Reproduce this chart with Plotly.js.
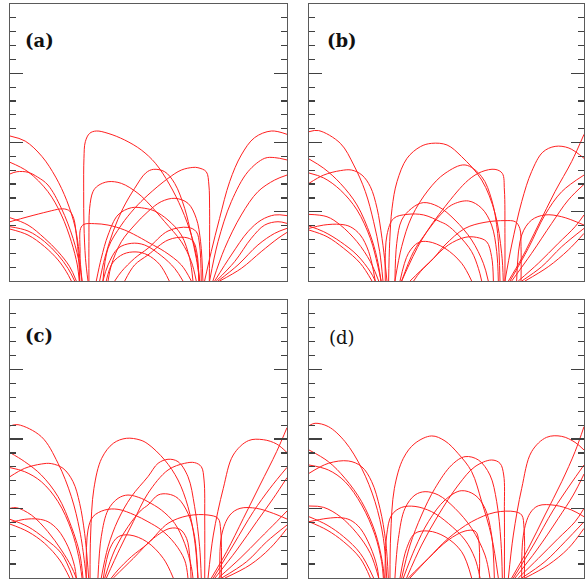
<!DOCTYPE html>
<html>
<head>
<meta charset="utf-8">
<script src="https://cdn.plot.ly/plotly-3.0.1.min.js"></script>
<style>html,body{margin:0;padding:0;background:#fff;}#chart{width:587px;height:580px;}</style>
</head>
<body>
<div id="chart"></div>
<script>
// Field lines, one list of [x, y] points per line, for each panel (axis units 0..20)
const panelLabels = ["(a)", "(b)", "(c)", "(d)"];

const linesA = [
  [[0,10.47],[1.1,10.1],[2.3,9.0],[3.3,7.5],[4.1,5.8],[4.7,3.9],[5.0,2.0],[5.2,0]],
  [[0,8.57],[1.3,7.89],[2.74,6.45],[3.71,4.77],[4.43,2.84],[4.86,1.16],[5.0,0]],
  [[0,7.73],[0.5,7.89],[1.3,7.85],[2.0,7.5],[2.74,6.93],[3.71,5.25],[4.55,3.08],[5.03,1.16],[5.2,0]],
  [[0,4.28],[1.3,4.64],[2.74,5.01],[3.6,5.2],[3.95,5.2],[4.31,5.05],[4.6,4.52],[4.79,3.32],[4.96,1.64],[5.03,0]],
  [[0,4.57],[1.3,4.04],[2.5,3.08],[3.47,2.12],[4.31,1.03],[4.79,0]],
  [[0,3.92],[1.3,3.61],[2.5,2.84],[3.47,1.88],[4.19,0.91],[4.67,0]],
  [[0,3.75],[1.3,3.32],[2.5,2.48],[3.47,1.52],[4.07,0.67],[4.43,0]],
  [[5.63,0],[5.45,1.64],[5.34,4.04],[5.32,6.45],[5.34,8.86],[5.44,10.06],[5.75,10.66],[6.23,10.83],[7.08,10.66],[8.28,10.18],[9.48,9.46],[10.5,8.5],[11.5,7.0],[12.4,5.2],[13.1,3.3],[13.5,1.6],[13.7,0]],
  [[5.7,0],[5.7,2.84],[5.75,5.25],[5.99,6.45],[6.35,6.88],[7.08,7.17],[8.04,7.05],[9.24,6.33],[10.11,5.49],[11.17,4.28],[12.37,2.84],[13.09,1.40],[13.45,0]],
  [[6.47,0],[6.84,1.64],[7.44,3.56],[8.16,5.25],[9.0,6.69],[9.8,7.8],[10.35,8.06],[11.17,7.89],[11.89,7.05],[12.61,5.25],[13.09,3.32],[13.45,1.64],[13.69,0]],
  [[6.71,0],[7.08,2.36],[8.04,4.04],[9.0,5.25],[9.96,6.21],[11.41,7.41],[12.37,8.01],[13.2,8.2],[13.57,8.18],[14.17,7.89],[14.36,6.93],[14.41,5.25],[14.41,2.84],[14.39,0]],
  [[7.08,0],[7.32,1.16],[8.04,2.84],[9.0,4.04],[9.96,5.01],[10.92,5.73],[11.91,5.97],[12.85,5.61],[13.45,4.52],[13.76,2.84],[13.93,0]],
  [[6.23,0],[6.59,1.64],[7.08,3.32],[7.80,4.77],[8.76,5.29],[9.72,5.25],[10.44,5.05],[11.41,4.40],[12.37,3.32],[12.97,1.64],[13.21,0]],
  [[5.03,0],[5.06,2.0],[5.10,3.8],[5.34,4.09],[6.11,4.14],[7.08,4.04],[8.28,3.68],[9.48,3.08],[10.11,2.72],[11.17,2.12],[12.37,1.16],[13.09,0]],
  [[7.56,0],[8.04,0.67],[9.0,1.64],[9.96,2.36],[11.41,3.61],[12.85,3.87],[13.45,3.56],[13.69,2.60],[13.81,0]],
  [[8.28,0],[9.0,1.16],[9.96,1.88],[11.41,2.96],[12.61,3.15],[13.21,2.89],[13.52,1.88],[13.62,0]],
  [[6.71,0],[7.08,1.16],[7.80,2.36],[8.76,2.72],[9.72,2.60],[10.92,1.83],[11.89,0.91],[12.49,0]],
  [[6.95,0],[7.4,1.3],[8.2,1.95],[9.1,2.1],[9.9,1.9],[10.8,1.2],[11.5,0]],
  [[14.05,0],[14.53,2.12],[15.13,4.52],[15.86,7.17],[16.70,9.10],[17.66,10.35],[18.87,10.83],[20,10.59]],
  [[14.41,0],[15.02,2.84],[15.98,5.73],[17.18,7.89],[18.39,8.86],[19.11,8.91],[20,8.74]],
  [[14.65,0],[15.50,2.36],[16.70,4.77],[17.90,6.45],[19.11,7.29],[20,7.65]],
  [[14.78,0],[15.98,1.88],[17.18,3.56],[18.14,4.40],[19.11,4.77],[20,4.72]],
  [[14.89,0],[16.22,1.40],[17.42,3.08],[18.39,4.04],[19.35,4.28],[20,4.16]],
  [[15.02,0],[16.46,1.16],[17.90,2.60],[19.11,3.44],[20,3.80]],
  [[15.14,0],[16.70,0.91],[18.14,2.12],[19.35,3.08],[20,3.51]]
];

const linesB = [
  [[0,10.78],[0.70,10.86],[2.28,9.94],[3.25,8.38],[4.10,6.45],[4.70,4.28],[5.14,2.12],[5.38,0]],
  [[0,8.81],[1.07,8.14],[2.28,7.05],[3.49,5.49],[4.46,3.32],[4.95,1.64],[5.24,0]],
  [[0,7.80],[1.07,7.44],[2.28,6.57],[3.49,5.13],[4.46,3.08],[4.99,1.16],[5.24,0]],
  [[0,7.05],[1.07,7.65],[2.28,7.97],[3.10,8.01],[3.85,7.65],[4.46,6.81],[4.95,5.25],[5.31,3.08],[5.55,1.16],[5.67,0]],
  [[0,4.81],[1.31,4.64],[2.28,4.04],[3.49,2.84],[4.46,1.40],[5.07,0]],
  [[0,3.80],[1.07,4.04],[2.28,4.09],[3.0,3.92],[3.73,3.32],[4.34,2.12],[4.82,0]],
  [[0,3.97],[1.07,3.56],[2.28,2.84],[3.49,1.88],[4.46,0.67],[4.82,0]],
  [[0,3.68],[1.31,3.20],[2.52,2.36],[3.73,1.28],[4.58,0]],
  [[5.79,0],[5.87,2.84],[6.04,5.25],[6.40,7.17],[7.13,8.86],[8.10,9.70],[8.92,9.94],[10.04,9.82],[11.10,8.98],[12.56,7.29],[13.53,4.89],[14.01,2.0],[14.13,0]],
  [[6.25,0],[6.74,2.48],[7.47,4.64],[8.68,6.57],[9.89,7.77],[11.35,8.38],[12.56,7.53],[13.29,5.85],[13.72,3.44],[13.89,0]],
  [[6.74,0],[8.19,2.96],[9.89,5.37],[11.59,7.29],[12.56,7.89],[13.53,8.06],[14.06,7.77],[14.21,6.57],[14.25,3.44],[14.25,0]],
  [[6.25,0],[6.38,2.72],[6.74,4.40],[7.47,5.25],[8.31,5.66],[9.41,5.37],[10.62,4.40],[11.83,2.96],[12.68,1.28],[13.04,0]],
  [[5.55,0],[5.67,3.32],[6.16,4.52],[7.13,4.81],[8.34,4.77],[9.55,4.28],[10.04,4.04],[10.86,3.32],[11.83,2.12],[12.32,0.91],[12.56,0]],
  [[6.74,0],[7.61,2.12],[8.58,3.56],[9.55,4.77],[10.38,5.49],[11.59,5.78],[12.56,5.25],[13.28,4.04],[13.65,2.12],[13.77,0]],
  [[7.61,0],[8.10,0.67],[9.07,1.64],[9.89,2.60],[11.35,3.80],[12.80,4.24],[14.25,4.36],[15.0,4.28],[15.33,3.80],[15.42,2.5],[15.42,0]],
  [[7.35,0],[8.68,1.28],[10.13,2.60],[11.35,3.15],[12.19,3.15],[12.92,2.84],[13.28,1.76],[13.41,0]],
  [[6.62,0],[7.23,2.0],[7.95,2.77],[8.68,2.84],[9.89,2.36],[11.10,1.28],[11.83,0]],
  [[14.25,0],[14.74,2.60],[15.47,5.73],[16.19,7.9],[17.0,9.3],[17.9,9.72],[18.9,9.6],[20,8.86]],
  [[14.50,0],[15.47,1.64],[16.68,4.04],[17.89,6.45],[19.10,8.62],[20,10.59]],
  [[14.62,0],[15.95,2.36],[17.16,4.77],[18.38,6.45],[20,7.65]],
  [[14.74,0],[16.19,2.0],[17.65,4.16],[18.86,5.85],[20,6.98]],
  [[15.10,0],[15.47,3.32],[16.19,4.40],[17.16,4.77],[18.38,4.64],[20,4.04]],
  [[15.22,0],[16.68,1.28],[18.13,2.72],[19.35,3.92],[20,4.77]],
  [[15.47,0],[16.92,1.03],[18.38,2.48],[20,3.80]],
  [[15.71,0],[17.40,1.03],[18.86,2.24],[20,3.44]]
];

const linesC = [
  [[0,10.94],[0.58,11.03],[2.26,10.17],[3.47,8.25],[4.43,5.85],[5.03,3.45],[5.39,1.06],[5.51,0]],
  [[0,9.02],[1.06,8.37],[2.26,7.41],[3.47,5.85],[4.43,3.69],[5.03,1.77],[5.27,0]],
  [[0,7.94],[1.06,7.65],[2.26,6.93],[3.47,5.49],[4.43,3.45],[4.96,1.53],[5.20,0]],
  [[0,7.29],[1.06,7.89],[2.26,8.20],[2.98,8.23],[3.83,7.89],[4.55,6.93],[5.03,5.37],[5.39,3.21],[5.58,1.29],[5.68,0]],
  [[0,5.01],[0.46,5.06],[1.54,4.53],[2.74,3.33],[3.71,2.01],[4.43,0.82],[4.79,0]],
  [[0,3.98],[1.06,4.22],[2.02,4.24],[2.74,4.05],[3.47,3.45],[4.19,2.25],[4.67,0.82],[4.79,0]],
  [[0,4.22],[1.30,3.69],[2.50,2.85],[3.71,1.77],[4.55,0]],
  [[0,3.88],[1.30,3.33],[2.50,2.49],[3.59,1.29],[4.31,0]],
  [[5.78,0],[5.82,3.09],[6.06,6.45],[6.62,8.61],[7.46,9.69],[8.40,10.05],[9.39,9.93],[9.96,9.64],[11.17,8.49],[12.13,7.05],[12.85,5.13],[13.33,2.73],[13.57,0]],
  [[6.59,0],[7.08,2.25],[7.80,4.17],[8.76,5.85],[9.96,7.29],[10.69,8.25],[11.41,8.54],[12.13,8.37],[12.85,7.29],[13.33,5.13],[13.69,2.25],[13.81,0]],
  [[6.96,0],[7.94,2.13],[8.90,4.05],[9.96,6.09],[11.41,7.77],[12.61,8.25],[13.33,8.30],[13.81,8.01],[14.01,7.05],[14.06,4.17],[14.06,0]],
  [[6.35,0],[6.59,2.97],[7.08,4.89],[7.80,5.73],[8.52,5.97],[9.48,5.73],[9.96,5.49],[10.93,4.89],[11.89,3.93],[12.61,2.49],[13.09,0.82],[13.21,0]],
  [[5.51,0],[5.63,3.45],[5.99,4.41],[6.84,4.89],[7.80,4.94],[9.00,4.53],[9.96,4.05],[10.93,3.45],[11.89,2.49],[12.61,1.29],[12.85,0]],
  [[6.84,0],[7.56,2.01],[8.52,3.69],[9.48,4.89],[9.96,5.25],[10.69,5.97],[11.41,6.04],[12.13,5.73],[12.85,4.65],[13.33,2.97],[13.57,0]],
  [[7.32,0],[7.80,0.58],[8.76,1.53],[9.96,2.49],[11.41,3.93],[12.85,4.48],[14.30,4.53],[15.02,4.29],[15.21,3.45],[15.26,0]],
  [[7.46,0],[8.90,1.41],[10.35,2.85],[11.55,3.57],[12.27,3.50],[12.75,2.85],[12.99,1.41],[13.07,0]],
  [[6.74,0],[7.22,2.13],[7.82,2.97],[8.66,3.09],[9.87,2.61],[11.07,1.41],[11.79,0]],
  [[14.30,0],[14.68,3.09],[15.40,6.45],[16.12,8.85],[17.21,9.88],[18.29,9.95],[19.25,9.64],[20,9.02]],
  [[14.54,0],[15.64,1.89],[16.85,4.29],[18.05,6.69],[19.25,9.09],[20,10.82]],
  [[14.68,0],[16.12,2.37],[17.57,4.77],[18.77,6.45],[20,7.96]],
  [[14.80,0],[16.37,2.01],[17.81,4.05],[19.01,5.73],[20,7.22]],
  [[15.16,0],[15.28,3.09],[15.88,4.53],[16.61,5.01],[17.81,5.01],[19.01,4.65],[20,4.24]],
  [[15.04,0],[16.61,1.41],[18.05,2.85],[19.25,4.05],[20,4.82]],
  [[15.28,0],[17.09,1.18],[18.53,2.61],[20,3.81]],
  [[15.52,0],[17.33,0.94],[18.77,2.13],[20,3.57]]
];

const linesD = [
  [[0,10.96],[0.44,11.13],[1.41,10.89],[2.62,9.81],[3.83,7.89],[4.80,5.49],[5.41,2.85],[5.65,0]],
  [[0,9.21],[1.41,8.37],[2.62,7.17],[3.83,5.49],[4.80,3.33],[5.33,1.18],[5.48,0]],
  [[0,8.13],[1.41,7.77],[2.62,6.93],[3.83,5.25],[4.80,3.09],[5.28,1.18],[5.41,0]],
  [[0,7.53],[1.41,8.25],[2.86,8.42],[3.83,8.01],[4.56,6.93],[5.16,5.01],[5.58,2.61],[5.77,0]],
  [[0,5.18],[1.07,5.08],[2.28,4.41],[3.49,3.21],[4.46,1.77],[5.07,0]],
  [[0,4.05],[1.31,4.29],[2.28,4.34],[3.0,4.17],[3.73,3.57],[4.46,2.25],[4.95,0.82],[5.07,0]],
  [[0,4.41],[1.31,3.81],[2.52,2.97],[3.73,1.77],[4.70,0]],
  [[0,4.05],[1.31,3.45],[2.52,2.61],[3.73,1.41],[4.46,0]],
  [[5.89,0],[5.94,3.09],[6.21,6.45],[6.86,8.61],[7.71,9.69],[8.92,10.22],[9.89,9.86],[10.86,8.94],[11.83,7.65],[12.56,5.49],[13.28,2.97],[13.77,0]],
  [[6.74,0],[7.35,2.37],[8.19,4.53],[9.16,6.45],[10.38,8.13],[11.35,8.73],[12.32,8.49],[13.16,7.41],[13.65,5.49],[13.96,2.61],[14.06,0]],
  [[7.10,0],[8.19,2.37],[9.41,4.53],[10.86,6.69],[12.07,8.01],[13.28,8.49],[13.89,8.25],[14.16,7.41],[14.21,4.77],[14.21,0]],
  [[6.25,0],[6.50,2.85],[6.98,5.01],[7.71,5.97],[8.44,6.21],[9.41,5.97],[10.62,5.01],[11.83,3.57],[12.80,1.65],[13.16,0]],
  [[5.53,0],[5.65,3.09],[6.01,4.53],[6.74,5.08],[7.71,5.15],[8.92,4.77],[10.13,3.93],[11.35,2.73],[12.07,1.41],[12.44,0]],
  [[6.86,0],[7.71,2.13],[8.68,4.05],[9.89,5.61],[11.07,6.28],[12.07,5.97],[12.80,5.01],[13.28,3.09],[13.48,0]],
  [[7.35,0],[8.68,1.41],[10.13,2.85],[11.83,4.05],[13.53,4.72],[14.98,4.77],[15.47,4.53],[15.64,3.57],[15.66,0]],
  [[7.22,0],[8.68,1.41],[10.13,2.73],[11.35,3.38],[12.07,3.38],[12.32,2.85],[12.39,0]],
  [[6.62,0],[7.10,2.13],[7.71,3.21],[8.68,3.38],[9.89,2.97],[11.10,1.89],[11.83,0]],
  [[14.50,0],[14.86,3.09],[15.47,6.45],[16.19,9.09],[17.28,10.12],[18.38,10.19],[19.35,9.76],[20,9.21]],
  [[14.74,0],[15.95,2.13],[17.16,4.53],[18.38,6.93],[19.35,9.09],[20,10.89]],
  [[14.86,0],[16.32,2.37],[17.77,4.89],[18.98,6.69],[20,8.13]],
  [[14.98,0],[16.56,2.01],[18.13,4.29],[19.22,5.97],[20,7.48]],
  [[15.47,0],[15.59,3.09],[16.07,4.65],[16.68,5.20],[17.89,5.23],[19.10,4.89],[20,4.41]],
  [[15.22,0],[16.68,1.41],[18.13,2.85],[19.35,4.05],[20,5.01]],
  [[15.47,0],[17.16,1.18],[18.62,2.61],[20,4.05]],
  [[15.71,0],[17.40,0.94],[18.86,2.13],[20,3.57]]
];

const panels = [linesA, linesB, linesC, linesD];
const axisIds = ["", "2", "3", "4"];

const traces = [];
panels.forEach((lines, p) => {
  lines.forEach(pts => {
    traces.push({
      type: "scatter", mode: "lines",
      x: pts.map(q => q[0]), y: pts.map(q => q[1]),
      xaxis: "x" + axisIds[p], yaxis: "y" + axisIds[p],
      line: {color: "#ff2020", width: 1.0, shape: "spline", smoothing: 1},
      hoverinfo: "skip", showlegend: false
    });
  });
});

const W = 587, H = 580;
const colX = [[10, 287], [309, 584]];
const rowY = [[4, 281], [300, 578]];

function xAx(col) {
  return {
    domain: [colX[col][0] / W, colX[col][1] / W],
    range: [0, 20], showline: true, mirror: true, linecolor: "#5a5a5a", linewidth: 1.3,
    ticks: "", showticklabels: false, showgrid: false, zeroline: false, fixedrange: true
  };
}
function yAx(row, anchor) {
  return {
    domain: [1 - rowY[row][1] / H, 1 - rowY[row][0] / H],
    anchor: anchor,
    range: [0, 20], showline: true, mirror: "allticks", linecolor: "#5a5a5a", linewidth: 1.3,
    ticks: "inside", tick0: 0, dtick: 5, ticklen: 13, tickwidth: 1.3, tickcolor: "#404040",
    minor: {dtick: 1, ticks: "inside", ticklen: 6, tickwidth: 1.2, tickcolor: "#404040", showgrid: false},
    showticklabels: false, showgrid: false, zeroline: false, fixedrange: true
  };
}

const labelPos = [[39, 40, true], [342, 40, true], [39, 335, true], [342, 337, false]];
const annotations = panelLabels.map((t, i) => ({
  text: labelPos[i][2] ? "<b>" + t + "</b>" : t,
  xref: "paper", yref: "paper",
  x: labelPos[i][0] / W, y: 1 - labelPos[i][1] / H,
  xanchor: "center", yanchor: "middle", showarrow: false,
  font: {family: "DejaVu Serif", size: 18, color: "#111"}
}));

const layout = {
  width: W, height: H,
  margin: {l: 0, r: 0, t: 0, b: 0},
  paper_bgcolor: "#ffffff", plot_bgcolor: "#ffffff",
  showlegend: false,
  xaxis: Object.assign(xAx(0), {anchor: "y"}),
  yaxis: yAx(0, "x"),
  xaxis2: Object.assign(xAx(1), {anchor: "y2"}),
  yaxis2: yAx(0, "x2"),
  xaxis3: Object.assign(xAx(0), {anchor: "y3"}),
  yaxis3: yAx(1, "x3"),
  xaxis4: Object.assign(xAx(1), {anchor: "y4"}),
  yaxis4: yAx(1, "x4"),
  annotations: annotations
};

Plotly.newPlot("chart", traces, layout, {staticPlot: true, displayModeBar: false});
</script>
</body>
</html>
